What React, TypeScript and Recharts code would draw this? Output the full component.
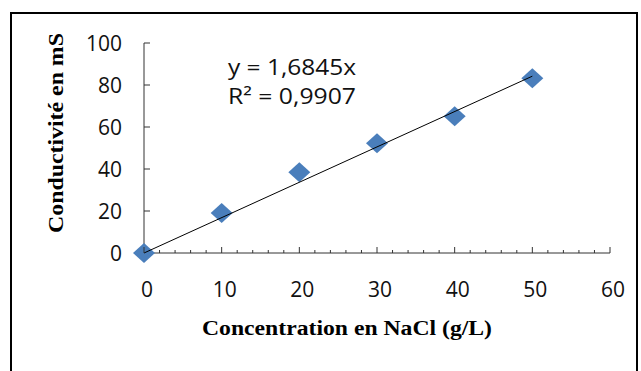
import { ComposedChart, Customized, Scatter, XAxis, YAxis } from "recharts";

const concentrations = [0, 10, 20, 30, 40, 50];
const conductivity = [0, 19, 38.5, 52.3, 65.1, 83.2];
const trendX = [0, 50];
const trendY = [0, 84.2];
const xTicks = [0, 2, 4, 6, 8, 10, 12, 14, 16, 18, 20, 22, 24, 26, 28, 30, 32, 34, 36, 38, 40, 42, 44, 46, 48, 50, 52, 54, 56, 58, 60];
const yTicks = [0, 20, 40, 60, 80, 100];
const equationLines = ["y = 1,6845x", "R² = 0,9907"];

const points = concentrations.map((x, i) => ({ x, y: conductivity[i] }));
const trend = trendX.map((x, i) => ({ x, y: trendY[i] }));

const tickFont = "'Open Sans', 'Noto Sans', sans-serif";
const titleFont = "'Liberation Serif', 'DejaVu Serif', serif";

function XTick(props: any) {
  const { x, y, payload } = props;
  const major = payload.value % 10 === 0;
  return (
    <g>
      <line x1={x} x2={x} y1={y} y2={y - (major ? 6 : 3)} stroke="#333" strokeWidth={1} />
      {major ? (
        <text x={x + 3} y={y + 44} textAnchor="middle" fontFamily={tickFont} fontSize={21} fill="#111">
          {payload.value}
        </text>
      ) : null}
    </g>
  );
}

function YTick(props: any) {
  const { x, y, payload } = props;
  return (
    <g>
      {payload.value !== 0 ? (
        <line x1={x} x2={x + 6} y1={y} y2={y} stroke="#333" strokeWidth={1} />
      ) : null}
      <text x={x - 22} y={y} dy="0.36em" textAnchor="end" fontFamily={tickFont} fontSize={21} fill="#111">
        {payload.value}
      </text>
    </g>
  );
}

function Diamond(props: any) {
  const { cx, cy } = props;
  if (cx == null || cy == null) return null;
  const w = 11;
  const h = 10;
  return (
    <polygon
      points={`${cx},${cy - h} ${cx + w},${cy} ${cx},${cy + h} ${cx - w},${cy}`}
      fill="#4A7EBB"
    />
  );
}

function Annotations() {
  return (
    <g>
      <text
        transform="translate(63,133) rotate(-90)"
        textAnchor="middle"
        fontFamily={titleFont}
        fontWeight="bold"
        fontSize={20}
        textLength={200}
        lengthAdjust="spacingAndGlyphs"
        fill="#000"
      >
        Conductivité en mS
      </text>
      <text
        x={347}
        y={335}
        textAnchor="middle"
        fontFamily={titleFont}
        fontWeight="bold"
        fontSize={20}
        textLength={290}
        lengthAdjust="spacingAndGlyphs"
        fill="#000"
      >
        Concentration en NaCl (g/L)
      </text>
      {equationLines.map((line, i) => (
        <text
          key={line}
          x={228}
          y={75 + i * 29}
          fontFamily={tickFont}
          fontSize={21}
          textLength={128}
          lengthAdjust="spacingAndGlyphs"
          fill="#111"
        >
          {line}
        </text>
      ))}
    </g>
  );
}

export default function App() {
  return (
    <div style={{ position: "absolute", left: 0, top: 0, width: 641, height: 371, background: "#fff", overflow: "hidden" }}>
      <div
        style={{
          position: "absolute",
          left: 10,
          top: 12,
          width: 624,
          height: 380,
          border: "2px solid #000",
        }}
      />
      <div style={{ position: "absolute", left: 0, top: 0 }}>
        <ComposedChart width={641} height={371} margin={{ top: 43, right: 31, bottom: 68, left: 84 }}>
          <XAxis
            type="number"
            dataKey="x"
            domain={[0, 60]}
            ticks={xTicks}
            interval={0}
            height={50}
            tickSize={0}
            tickMargin={0}
            tickLine={false}
            tick={<XTick />}
            axisLine={{ stroke: "#333", strokeWidth: 1 }}
          />
          <YAxis
            type="number"
            dataKey="y"
            domain={[0, 100]}
            ticks={yTicks}
            interval={0}
            width={60}
            tickSize={0}
            tickMargin={0}
            tickLine={false}
            tick={<YTick />}
            axisLine={{ stroke: "#333", strokeWidth: 1 }}
          />
          <Scatter data={points} shape={<Diamond />} isAnimationActive={false} />
          <Scatter
            data={trend}
            line={{ stroke: "#000", strokeWidth: 1 }}
            shape={() => <g />}
            isAnimationActive={false}
          />
          <Customized component={<Annotations />} />
        </ComposedChart>
      </div>
    </div>
  );
}
